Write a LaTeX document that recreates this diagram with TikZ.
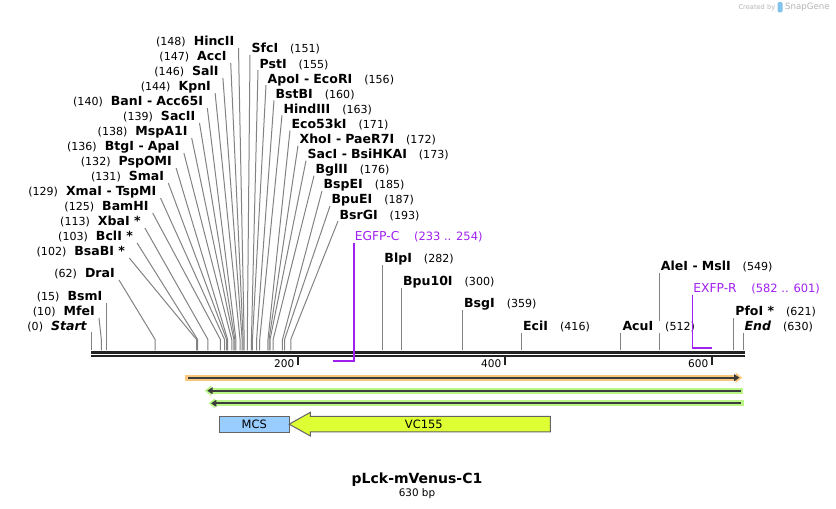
\documentclass[tikz,border=0pt]{standalone}
\usepackage{fontspec}
\setmainfont{DejaVu Sans}
\usetikzlibrary{arrows.meta}

\definecolor{siteGray}{RGB}{130,130,130}
\definecolor{bbDark}{RGB}{34,34,34}
\definecolor{primerViolet}{RGB}{160,32,240}
\definecolor{featOrange}{RGB}{250,200,125}
\definecolor{featGreen}{RGB}{185,245,135}
\definecolor{featDark}{RGB}{60,60,60}
\definecolor{boxGray}{RGB}{100,100,100}
\definecolor{mcsBlue}{RGB}{153,204,255}
\definecolor{vcYellow}{RGB}{221,255,51}
\definecolor{creditGray}{RGB}{180,180,180}
\definecolor{creditBlue}{RGB}{130,195,235}

\newcommand{\enz}[1]{{\fontsize{9.4}{10}\selectfont\bfseries #1}}
\newcommand{\sitenum}[1]{{\fontsize{8.3}{9}\selectfont(#1)}}
\newcommand{\enzsep}{\hspace{3.5pt}-\hspace{3pt}}
\newcommand{\ltext}[2]{\sitenum{#1}\hspace{6pt}\enz{#2}}
\newcommand{\rtext}[2]{\enz{#1}\hspace{9pt}\sitenum{#2}}

\begin{document}
\begin{tikzpicture}[x=0.75pt,y=-0.75pt]
\tikzset{
  sitelbl/.style={fill=white, inner xsep=1pt, inner ysep=0.3pt, text height=7pt, text depth=1pt},
  leftlbl/.style={sitelbl, inner xsep=3pt, anchor=south east},
  rightlbl/.style={sitelbl, anchor=south west},
  siteline/.style={siteGray, line width=0.75pt},
  primer/.style={draw=primerViolet, line width=1.3pt},
  primerlbl/.style={fill=white, text=primerViolet, inner xsep=0.5pt, inner ysep=0.3pt,
    text height=7pt, text depth=1pt, anchor=south west, font=\fontsize{9.2}{10}\selectfont},
  ticklbl/.style={inner sep=0pt, anchor=east, font=\fontsize{7.9}{9}\selectfont},
  mcsbox/.style={draw=boxGray, fill=mcsBlue, line width=0.75pt, inner sep=0pt,
    minimum width=52.5pt, minimum height=11.8pt, font=\fontsize{8.6}{10}\selectfont},
}
\useasboundingbox (0,0) rectangle (836,509);

%% credit
\node[anchor=east, inner sep=0pt, text=creditGray, font=\fontsize{6.5}{7}\selectfont] (snapgene) at (830,7.5) {SnapGene};
\fill[creditBlue, rounded corners=1pt] (777.5,2) rectangle (782.5,12.5);
\node[anchor=east, inner sep=0pt, text=creditGray, font=\fontsize{5}{6}\selectfont] (createdby) at (775.5,7.5) {Created by};

%% backbone
\draw[bbDark, line width=2.5pt] (91,352.35) -- (745,352.35);
\draw[bbDark, line width=1.5pt] (91,356.3) -- (745,356.3);
\foreach \t in {200,400,600} {
  \draw[bbDark, line width=1.5pt] ({91+1.035*\t},357.3) -- ++(0,8);
  \node[ticklbl] (tick\t) at ({91+1.035*\t-3.5},363.3) {\t};
}

%% left cluster
\foreach \bp/\nm/\txt [count=\i from 0] in {
  148/HincII/HincII, 147/AccI/AccI, 146/SalI/SalI, 144/KpnI/KpnI,
  140/BanI/{BanI\enzsep Acc65I}, 139/SacII/SacII, 138/MspA1I/MspA1I,
  136/BtgI/{BtgI\enzsep ApaI}, 132/PspOMI/PspOMI, 131/SmaI/SmaI,
  129/XmaI/{XmaI\enzsep TspMI}, 125/BamHI/BamHI, 113/XbaI/{XbaI *},
  103/BclI/{BclI *}, 102/BsaBI/{BsaBI *}}
{
  \node[leftlbl] (\nm) at ({238.5-7.8*\i},{48+15*\i}) {\ltext{\bp}{\txt}};
  \draw[siteline] ({91+1.035*\bp},350.5) -- ++(0,-11) -- (\nm.south east);
}

%% left, lone sites
\node[leftlbl] (DraI) at (119,280) {\ltext{62}{DraI}};
\draw[siteline] ({91+1.035*62},350.5) -- ++(0,-11) -- (DraI.south east);
\node[leftlbl] (BsmI) at ({91+1.035*15},303) {\ltext{15}{BsmI}};
\draw[siteline] ({91+1.035*15},350.5) -- (BsmI.south east);
\node[leftlbl] (MfeI) at (99,318) {\ltext{10}{MfeI}};
\draw[siteline] ({91+1.035*10},350.5) -- ++(0,-11) -- (MfeI.south east);
\node[leftlbl] (Start) at (91,332.5) {\ltext{0}{\itshape Start}};
\draw[siteline] (91,350.5) -- (Start.south east);

%% right cluster
\foreach \bp/\nm/\txt [count=\i from 0] in {
  151/SfcI/SfcI, 155/PstI/PstI, 156/ApoI/{ApoI\enzsep EcoRI}, 160/BstBI/BstBI,
  163/HindIII/HindIII, 171/Eco53kI/Eco53kI, 172/XhoI/{XhoI\enzsep PaeR7I},
  173/SacI/{SacI\enzsep BsiHKAI}, 176/BglII/BglII, 185/BspEI/BspEI,
  187/BpuEI/BpuEI, 193/BsrGI/BsrGI}
{
  \node[rightlbl] (\nm) at ({250+8*\i},{55+15.1*\i}) {\rtext{\txt}{\bp}};
  \draw[siteline] ({91+1.035*\bp},350.5) -- ++(0,-11) -- (\nm.south west);
}

%% right, lone sites
\foreach \bp/\nm/\txt/\ty in {
  282/BlpI/BlpI/265, 300/Bpu10I/Bpu10I/288, 359/BsgI/BsgI/310,
  416/EciI/EciI/333, 549/AleI/{AleI\enzsep MslI}/273, 512/AcuI/AcuI/333,
  621/PfoI/{PfoI *}/318, 630/End/{\itshape End}/333}
{
  \coordinate (s\nm) at ({91+1.035*\bp},350.5);
  \node[rightlbl] (\nm) at ({91+1.035*\bp},\ty) {\rtext{\txt}{\bp}};
  \draw[siteline] (s\nm) -- (\nm.south west);
}

%% primers
\node[primerlbl] (EGFPC) at (354,243) {EGFP-C\hspace{11pt}{\fontsize{8.6}{9}\selectfont(233 .. 254)}};
\coordinate (EGFPCa) at (332.5,360.7);
\coordinate (EGFPCb) at (354,360.7);
\draw[primer] (EGFPCa) -- (EGFPCb) -- (EGFPC.south west);
\node[primerlbl] (EXFPR) at (692.5,295) {EXFP-R\hspace{11pt}{\fontsize{8.6}{9}\selectfont(582 .. 601)}};
\coordinate (EXFPRa) at (712,347.7);
\coordinate (EXFPRb) at (692.5,347.7);
\draw[primer] (EXFPRa) -- (EXFPRb) -- (EXFPR.south west);

%% features
\draw[featOrange, line width=4.5pt, -{Triangle[length=5pt,width=7.5pt]}] (185.4,377.7) -- (742.3,377.7);
\draw[featDark, line width=1.5pt, -{Triangle[length=4pt,width=5pt]}] (188,377.7) -- (739.5,377.7);
\draw[featGreen, line width=4.5pt, {Triangle[length=5pt,width=7.5pt]}-] (204.6,390.7) -- (743,390.7);
\draw[featDark, line width=1.5pt, {Triangle[length=4pt,width=5pt]}-] (207.2,390.7) -- (740.5,390.7);
\draw[featGreen, line width=4.5pt, {Triangle[length=5pt,width=7.5pt]}-] (208.5,403.3) -- (743.8,403.3);
\draw[featDark, line width=1.5pt, {Triangle[length=4pt,width=5pt]}-] (211,403.3) -- (741.3,403.3);

\node[mcsbox] (MCS) at (254.2,424.2) {MCS};
\draw[boxGray, fill=vcYellow, line width=0.75pt] (550.4,416.3) -- (310.4,416.3) -- (310.4,412.3) -- (289.2,424.2)
  -- (310.4,436) -- (310.4,432) -- (550.4,432) -- cycle;
\node[font=\fontsize{8.6}{10}\selectfont] (VC155) at (423.8,424.2) {VC155};

%% title
\node[font=\fontsize{10.5}{12}\selectfont\bfseries] (title) at (417,479.3) {pLck-mVenus-C1};
\node[font=\fontsize{7.8}{9}\selectfont] (size) at (417,493.3) {630 bp};
\end{tikzpicture}
\end{document}
